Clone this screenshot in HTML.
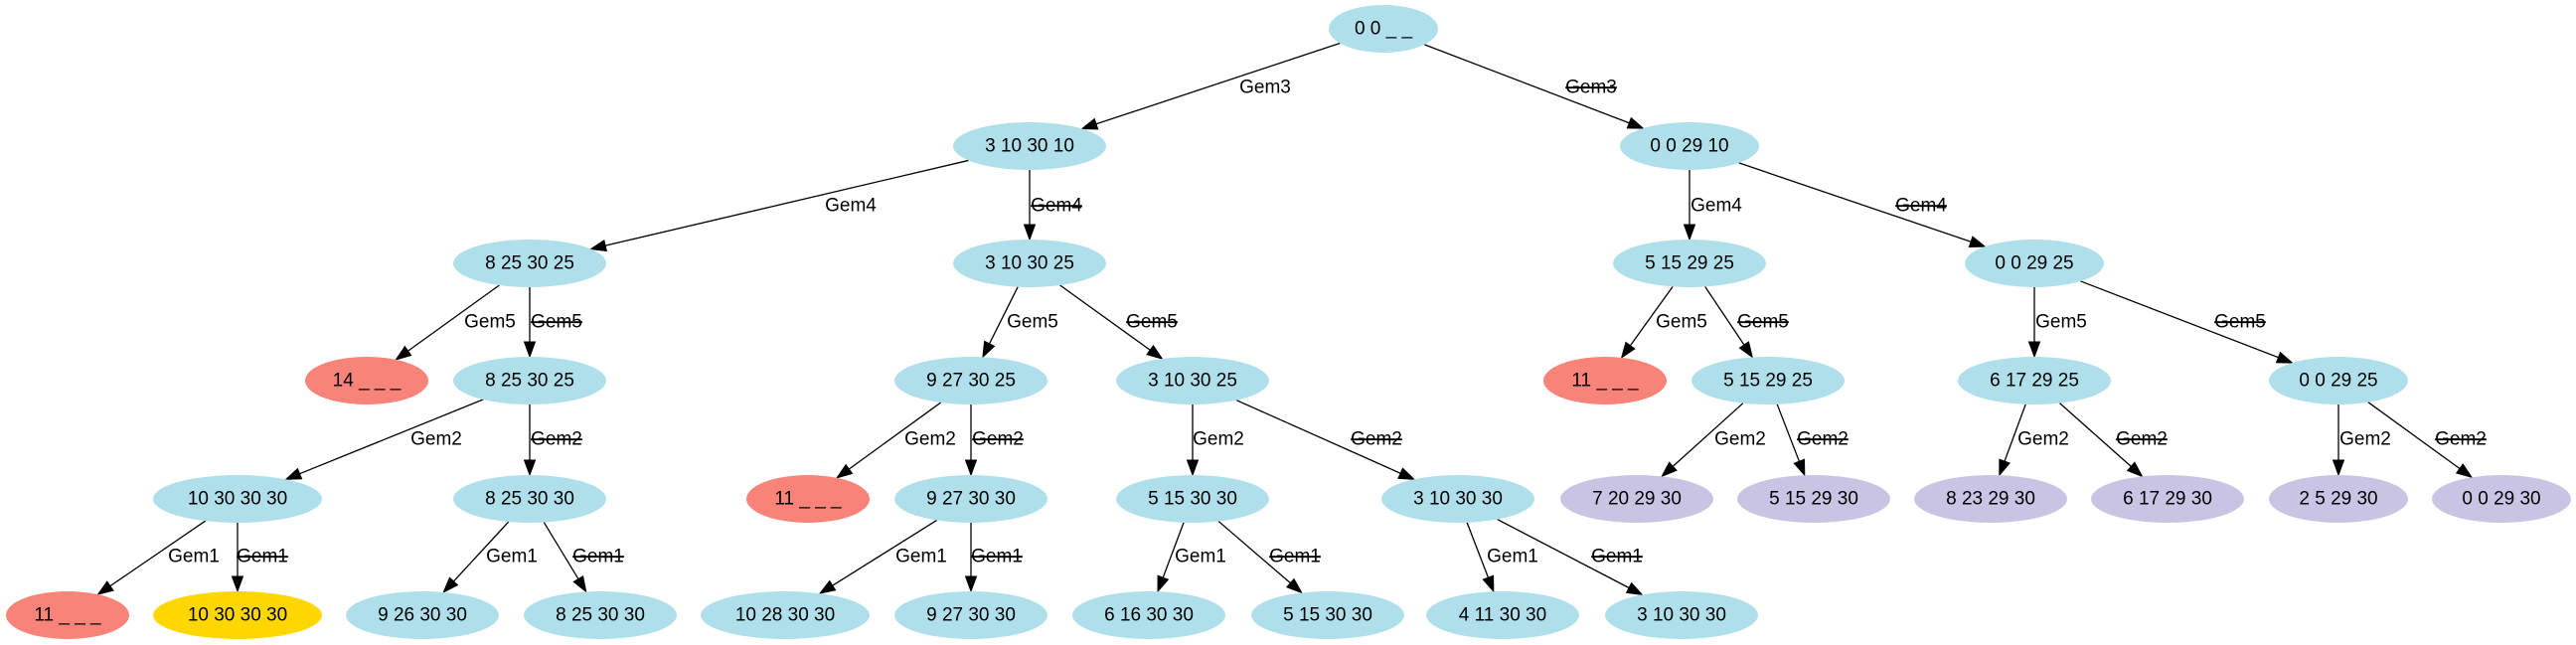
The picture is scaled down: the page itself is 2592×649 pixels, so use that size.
<!DOCTYPE html>
<html><head><meta charset="utf-8">
<style>
html,body{margin:0;padding:0;background:#fff;}
svg{display:block;}
text{font-family:"Liberation Sans",Arial,sans-serif;font-size:19px;fill:#000;}
.n{text-anchor:middle;dominant-baseline:central;}
.e{text-anchor:middle;dominant-baseline:central;}
.s{text-decoration:line-through;}
</style></head>
<body>
<svg id="g" width="2592" height="649" viewBox="0 0 2592 649" xmlns="http://www.w3.org/2000/svg">
<g id="edges"></g>
<g id="nodes">
<ellipse cx="1392" cy="29" rx="55" ry="24" fill="#b0dfec"/><text class="n" x="1392" y="29">0 0 _ _</text>
<ellipse cx="1036" cy="147" rx="77" ry="24" fill="#b0dfec"/><text class="n" x="1036" y="147">3 10 30 10</text>
<ellipse cx="1700" cy="147" rx="70" ry="24" fill="#b0dfec"/><text class="n" x="1700" y="147">0 0 29 10</text>
<ellipse cx="533" cy="265" rx="77" ry="24" fill="#b0dfec"/><text class="n" x="533" y="265">8 25 30 25</text>
<ellipse cx="1036" cy="265" rx="77" ry="24" fill="#b0dfec"/><text class="n" x="1036" y="265">3 10 30 25</text>
<ellipse cx="1700" cy="265" rx="77" ry="24" fill="#b0dfec"/><text class="n" x="1700" y="265">5 15 29 25</text>
<ellipse cx="2047" cy="265" rx="70" ry="24" fill="#b0dfec"/><text class="n" x="2047" y="265">0 0 29 25</text>
<ellipse cx="369" cy="383" rx="62" ry="24" fill="#f88379"/><text class="n" x="369" y="383">14 _ _ _</text>
<ellipse cx="533" cy="383" rx="77" ry="24" fill="#b0dfec"/><text class="n" x="533" y="383">8 25 30 25</text>
<ellipse cx="977" cy="383" rx="77" ry="24" fill="#b0dfec"/><text class="n" x="977" y="383">9 27 30 25</text>
<ellipse cx="1200" cy="383" rx="77" ry="24" fill="#b0dfec"/><text class="n" x="1200" y="383">3 10 30 25</text>
<ellipse cx="1615" cy="383" rx="62" ry="24" fill="#f88379"/><text class="n" x="1615" y="383">11 _ _ _</text>
<ellipse cx="1779" cy="383" rx="77" ry="24" fill="#b0dfec"/><text class="n" x="1779" y="383">5 15 29 25</text>
<ellipse cx="2047" cy="383" rx="77" ry="24" fill="#b0dfec"/><text class="n" x="2047" y="383">6 17 29 25</text>
<ellipse cx="2353" cy="383" rx="70" ry="24" fill="#b0dfec"/><text class="n" x="2353" y="383">0 0 29 25</text>
<ellipse cx="239" cy="502" rx="85" ry="24" fill="#b0dfec"/><text class="n" x="239" y="502">10 30 30 30</text>
<ellipse cx="533" cy="502" rx="77" ry="24" fill="#b0dfec"/><text class="n" x="533" y="502">8 25 30 30</text>
<ellipse cx="813" cy="502" rx="62" ry="24" fill="#f88379"/><text class="n" x="813" y="502">11 _ _ _</text>
<ellipse cx="977" cy="502" rx="77" ry="24" fill="#b0dfec"/><text class="n" x="977" y="502">9 27 30 30</text>
<ellipse cx="1200" cy="502" rx="77" ry="24" fill="#b0dfec"/><text class="n" x="1200" y="502">5 15 30 30</text>
<ellipse cx="1467" cy="502" rx="77" ry="24" fill="#b0dfec"/><text class="n" x="1467" y="502">3 10 30 30</text>
<ellipse cx="1647" cy="502" rx="77" ry="24" fill="#cac4e4"/><text class="n" x="1647" y="502">7 20 29 30</text>
<ellipse cx="1825" cy="502" rx="77" ry="24" fill="#cac4e4"/><text class="n" x="1825" y="502">5 15 29 30</text>
<ellipse cx="2003" cy="502" rx="77" ry="24" fill="#cac4e4"/><text class="n" x="2003" y="502">8 23 29 30</text>
<ellipse cx="2181" cy="502" rx="77" ry="24" fill="#cac4e4"/><text class="n" x="2181" y="502">6 17 29 30</text>
<ellipse cx="2353" cy="502" rx="70" ry="24" fill="#cac4e4"/><text class="n" x="2353" y="502">2 5 29 30</text>
<ellipse cx="2517" cy="502" rx="70" ry="24" fill="#cac4e4"/><text class="n" x="2517" y="502">0 0 29 30</text>
<ellipse cx="68" cy="619" rx="62" ry="24" fill="#f88379"/><text class="n" x="68" y="619">11 _ _ _</text>
<ellipse cx="239" cy="619" rx="85" ry="24" fill="#ffd700"/><text class="n" x="239" y="619">10 30 30 30</text>
<ellipse cx="425" cy="619" rx="77" ry="24" fill="#b0dfec"/><text class="n" x="425" y="619">9 26 30 30</text>
<ellipse cx="604" cy="619" rx="77" ry="24" fill="#b0dfec"/><text class="n" x="604" y="619">8 25 30 30</text>
<ellipse cx="790" cy="619" rx="85" ry="24" fill="#b0dfec"/><text class="n" x="790" y="619">10 28 30 30</text>
<ellipse cx="977" cy="619" rx="77" ry="24" fill="#b0dfec"/><text class="n" x="977" y="619">9 27 30 30</text>
<ellipse cx="1156" cy="619" rx="77" ry="24" fill="#b0dfec"/><text class="n" x="1156" y="619">6 16 30 30</text>
<ellipse cx="1336" cy="619" rx="77" ry="24" fill="#b0dfec"/><text class="n" x="1336" y="619">5 15 30 30</text>
<ellipse cx="1512" cy="619" rx="77" ry="24" fill="#b0dfec"/><text class="n" x="1512" y="619">4 11 30 30</text>
<ellipse cx="1692" cy="619" rx="77" ry="24" fill="#b0dfec"/><text class="n" x="1692" y="619">3 10 30 30</text>
</g>
<g id="labels">
<text class="e" x="1273" y="88">Gem3</text><text class="e s" x="1601" y="88">Gem3</text>
<text class="e" x="856" y="207">Gem4</text><text class="e s" x="1063" y="207">Gem4</text>
<text class="e" x="1727" y="207">Gem4</text><text class="e s" x="1933" y="207">Gem4</text>
<text class="e" x="493" y="324">Gem5</text><text class="e s" x="560" y="324">Gem5</text>
<text class="e" x="1039" y="324">Gem5</text><text class="e s" x="1159" y="324">Gem5</text>
<text class="e" x="1692" y="324">Gem5</text><text class="e s" x="1774" y="324">Gem5</text>
<text class="e" x="2074" y="324">Gem5</text><text class="e s" x="2254" y="324">Gem5</text>
<text class="e" x="439" y="442">Gem2</text><text class="e s" x="560" y="442">Gem2</text>
<text class="e" x="936" y="442">Gem2</text><text class="e s" x="1004" y="442">Gem2</text>
<text class="e" x="1226" y="442">Gem2</text><text class="e s" x="1385" y="442">Gem2</text>
<text class="e" x="1751" y="442">Gem2</text><text class="e s" x="1834" y="442">Gem2</text>
<text class="e" x="2056" y="442">Gem2</text><text class="e s" x="2155" y="442">Gem2</text>
<text class="e" x="2380" y="442">Gem2</text><text class="e s" x="2476" y="442">Gem2</text>
<text class="e" x="195" y="560">Gem1</text><text class="e s" x="264" y="560">Gem1</text>
<text class="e" x="515" y="560">Gem1</text><text class="e s" x="602" y="560">Gem1</text>
<text class="e" x="927" y="560">Gem1</text><text class="e s" x="1003" y="560">Gem1</text>
<text class="e" x="1208" y="560">Gem1</text><text class="e s" x="1303" y="560">Gem1</text>
<text class="e" x="1522" y="560">Gem1</text><text class="e s" x="1627" y="560">Gem1</text>
</g>
</svg>
<script>
(function(){
var N={
r:[1392,29,55],a:[1036,147,77],b:[1700,147,70],
c:[533,265,77],d:[1036,265,77],e:[1700,265,77],f:[2047,265,70],
g:[369,383,62],h:[533,383,77],i:[977,383,77],j:[1200,383,77],k:[1615,383,62],l:[1779,383,77],m:[2047,383,77],n:[2353,383,70],
o:[239,502,85],p:[533,502,77],q:[813,502,62],s:[977,502,77],t:[1200,502,77],u:[1467,502,77],v:[1647,502,77],w:[1825,502,77],x:[2003,502,77],y:[2181,502,77],z:[2353,502,70],A:[2517,502,70],
B:[68,619,62],C:[239,619,85],D:[425,619,77],E:[604,619,77],F:[790,619,85],G:[977,619,77],H:[1156,619,77],I:[1336,619,77],J:[1512,619,77],K:[1692,619,77]};
var E=[["r","a"],["r","b"],["a","c"],["a","d"],["b","e"],["b","f"],["c","g"],["c","h"],["d","i"],["d","j"],["e","k"],["e","l"],["f","m"],["f","n"],
["h","o"],["h","p"],["i","q"],["i","s"],["j","t"],["j","u"],["l","v"],["l","w"],["m","x"],["m","y"],["n","z"],["n","A"],
["o","B"],["o","C"],["p","D"],["p","E"],["s","F"],["s","G"],["t","H"],["t","I"],["u","J"],["u","K"]];
function bnd(n,dx,dy){var a=n[2],b=24;var t=1/Math.sqrt(dx*dx/(a*a)+dy*dy/(b*b));return [n[0]+dx*t,n[1]+dy*t];}
var g=document.getElementById("edges"),h="";
E.forEach(function(e){var P=N[e[0]],C=N[e[1]];var dx=C[0]-P[0],dy=C[1]-P[1];var L=Math.sqrt(dx*dx+dy*dy),ux=dx/L,uy=dy/L;
var s=bnd(P,dx,dy),t=bnd(C,-dx,-dy);var al=15,aw=5.5;var bx=t[0]-ux*al,by=t[1]-uy*al;
h+='<line x1="'+s[0]+'" y1="'+s[1]+'" x2="'+bx+'" y2="'+by+'" stroke="#000" stroke-width="1.3"/>';
h+='<polygon points="'+t[0]+','+t[1]+' '+(bx-uy*aw)+','+(by+ux*aw)+' '+(bx+uy*aw)+','+(by-ux*aw)+'" fill="#000" stroke="#000"/>';});
g.innerHTML=h;})();
</script>
</body></html>
